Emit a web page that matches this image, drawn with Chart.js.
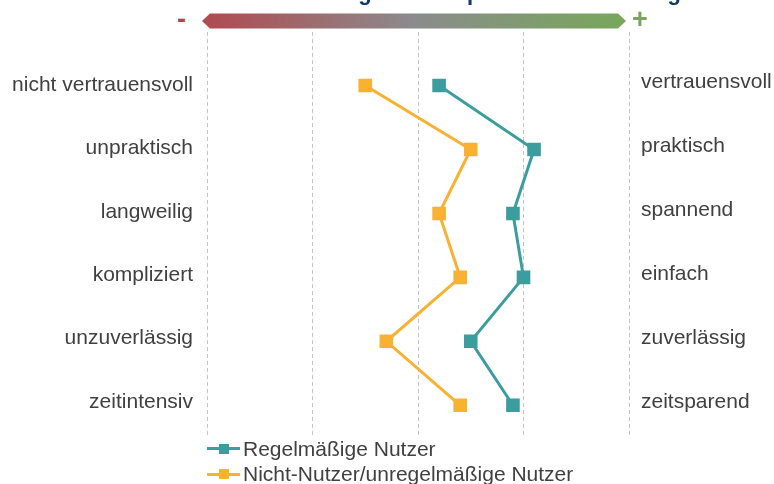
<!DOCTYPE html>
<html><head><meta charset="utf-8">
<script src="https://cdn.jsdelivr.net/npm/chart.js@4/dist/chart.umd.min.js"></script>
<style>
html,body{margin:0;padding:0;background:#fff;overflow:hidden}
#wrap{position:relative;width:774px;height:484px;overflow:hidden;font-family:"Liberation Sans",Arial,sans-serif}
#c{position:absolute;left:0;top:0}
#title{position:absolute;left:258px;top:-18px;font-weight:bold;font-size:22px;line-height:22px;color:#103a68;white-space:nowrap}
.sign{position:absolute;font-weight:bold;font-size:27px;line-height:26px}
#minus{left:177px;top:6px;color:#b5474b}
#plus{left:632px;top:6px;color:#77a55a}
.leg{position:absolute;left:207px;height:24px;width:500px;font-size:21px;line-height:24px;color:#404040;white-space:nowrap}
.leg .ln{position:absolute;left:0;top:10.5px;width:33px;height:3px}
.leg .sq{position:absolute;left:12px;top:7px;width:10px;height:10px}
.leg .tx{position:absolute;left:36px;top:0}
</style></head>
<body>
<div id="wrap">
  <canvas id="c" width="774" height="484"></canvas>
  <div id="title">Bewertung der Kompetenz und Leistung</div>
  <div class="sign" id="minus">-</div>
  <div class="sign" id="plus">+</div>
  <div id="legend"></div>
</div>
<script>
// ---- data ----
const leftLabels  = ["nicht vertrauensvoll","unpraktisch","langweilig","kompliziert","unzuverlässig","zeitintensiv"];
const rightLabels = ["vertrauensvoll","praktisch","spannend","einfach","zuverlässig","zeitsparend"];
const seriesNames = ["Regelmäßige Nutzer","Nicht-Nutzer/unregelmäßige Nutzer"];
const regularValues    = [3.2, 4.1, 3.9, 4.0, 3.5, 3.9];
const nonRegularValues = [2.5, 3.5, 3.2, 3.4, 2.7, 3.4];
const scaleTicks = [1, 2, 3, 4, 5];

const colors = ["#3b9d9e", "#f8b131"];

function toPoints(vals){ return vals.map((v,i)=>({x:v, y:i})); }

const gradientBar = {
  id:'gradientBar',
  beforeDraw(chart){
    const {ctx, chartArea:a} = chart;
    const l=a.left-5, r=a.right-3, t=13.5, b=28.5, m=(t+b)/2, d=8;
    const g=ctx.createLinearGradient(l,0,r,0);
    g.addColorStop(0,'#b04a4f'); g.addColorStop(0.5,'#8b8b8d'); g.addColorStop(1,'#77a859');
    ctx.save(); ctx.beginPath();
    ctx.moveTo(l,m); ctx.lineTo(l+d,t); ctx.lineTo(r-d,t); ctx.lineTo(r,m); ctx.lineTo(r-d,b); ctx.lineTo(l+d,b);
    ctx.closePath(); ctx.fillStyle=g; ctx.fill(); ctx.restore();
  }
};

function labelAxis(labels, position, min, max, padding){
  return {
    type:'linear', position, reverse:true, min, max,
    grid:{display:false, drawTicks:false, tickLength:0}, border:{display:false},
    afterBuildTicks(s){ s.ticks = labels.map((_,i)=>({value:i})); },
    afterFit(s){ s.width = position==='left' ? 207 : 145; },
    ticks:{ padding, color:'#404040', font:{family:'"Liberation Sans", Arial, sans-serif', size:21},
      callback:(v)=>labels[v] }
  };
}

new Chart(document.getElementById('c'), {
  type:'line',
  data:{ datasets:[
    {label:seriesNames[0], data:toPoints(regularValues), borderColor:colors[0], backgroundColor:colors[0],
     borderWidth:3, pointStyle:'rect', pointRadius:7.5, pointHoverRadius:7.5, tension:0, yAxisID:'y'},
    {label:seriesNames[1], data:toPoints(nonRegularValues), borderColor:colors[1], backgroundColor:colors[1],
     borderWidth:3, pointStyle:'rect', pointRadius:7.5, pointHoverRadius:7.5, tension:0, yAxisID:'y'}
  ]},
  options:{
    responsive:false, animation:false, events:[],
    layout:{padding:{top:32,bottom:46,left:0,right:0}},
    plugins:{legend:{display:false}, tooltip:{enabled:false}},
    scales:{
      x:{type:'linear', min:1, max:5,
         afterBuildTicks(s){ s.ticks = scaleTicks.map(v=>({value:v})); },
         afterFit(s){ s.height = 0; },
         ticks:{display:false}, border:{display:false, dash:[4,3]},
         grid:{color:'#c4c4c4', lineWidth:1, drawTicks:false, tickLength:0}},
      y:{type:'linear', display:false, reverse:true, min:-0.8375, max:5.512},
      yl: labelAxis(leftLabels,'left',-0.843,5.569,14),
      yr: labelAxis(rightLabels,'right',-0.776,5.561,12)
    }
  },
  plugins:[gradientBar]
});

// HTML legend
const leg = document.getElementById('legend');
const legTops = [436.5, 462];
seriesNames.forEach((n,i)=>{
  const d=document.createElement('div'); d.className='leg'; d.style.top=legTops[i]+'px';
  d.innerHTML='<div class="ln" style="background:'+colors[i]+'"></div><div class="sq" style="background:'+colors[i]+'"></div><div class="tx">'+n+'</div>';
  leg.appendChild(d);
});
</script>
</body></html>
